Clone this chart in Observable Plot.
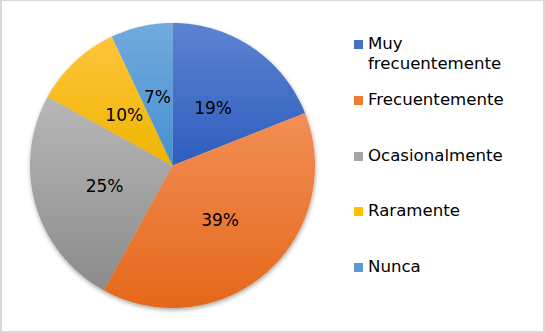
<!DOCTYPE html>
<html>
<head>
<meta charset="utf-8">
<script src="https://cdn.jsdelivr.net/npm/d3@7"></script>
<script src="https://cdn.jsdelivr.net/npm/@observablehq/plot@0.6"></script>
<style>
  html, body { margin: 0; padding: 0; background: #fff; }
  #chart { position: relative; width: 545px; height: 333px; overflow: hidden; }
  #frame { position: absolute; left: 0; top: 0; width: 545px; height: 333px; box-sizing: border-box;
           border-top: 1px solid #d9d9d9; border-left: 2px solid #d9d9d9; border-right: 2px solid #d9d9d9; border-bottom: 2px solid #d9d9d9; pointer-events: none; }
  #legend { position: absolute; left: 354px; top: 0; font-family: "DejaVu Sans", sans-serif; font-size: 16.6px; color: #000; }
  .item { position: absolute; left: 0; white-space: nowrap; }
  .sw { position: absolute; left: 0; width: 9px; height: 9px; }
  .lab { position: absolute; left: 14px; line-height: 20px; }
</style>
</head>
<body>
<div id="chart"><div id="legend"></div><div id="frame"></div></div>
<script>
// ---- data ----
const categories = ["Muy frecuentemente", "Frecuentemente", "Ocasionalmente", "Raramente", "Nunca"];
const legendLines = [["Muy", "frecuentemente"], ["Frecuentemente"], ["Ocasionalmente"], ["Raramente"], ["Nunca"]];
const values = [19, 39, 25, 10, 7];
const labels = ["19%", "39%", "25%", "10%", "7%"];
const colorTop = ["#5d82d2", "#f28e56", "#b7b7b7", "#ffc43a", "#72aadd"];
const colorBottom = ["#2d5ebd", "#e4681a", "#8b8b8b", "#eeb500", "#4690d2"];
const swatch = ["#4472c4", "#ed7d31", "#a5a5a5", "#ffc000", "#5b9bd5"];

// ---- layout ----
const W = 545, H = 333, cx = 172.5, cy = 165.5, R = 142.5;
const xDomain = [-cx / R, (W - cx) / R];
const yDomain = [-(H - cy) / R, cy / R];

const pie = d3.pie().sort(null).value(d => d.value)(categories.map((c, i) => ({cat: c, value: values[i], label: labels[i]})));

const arcPts = [];
pie.forEach(p => {
  const n = Math.max(2, Math.ceil((p.endAngle - p.startAngle) / 0.01));
  for (let k = 0; k <= n; k++) {
    const a = p.startAngle + (p.endAngle - p.startAngle) * k / n;
    arcPts.push({cat: p.data.cat, x1: Math.sin(a), y1: Math.cos(a), x2: 0, y2: 0});
  }
});
const labelPts = pie.map(p => {
  const a = (p.startAngle + p.endAngle) / 2;
  return {label: p.data.label, x: 0.5 * Math.sin(a), y: 0.5 * Math.cos(a)};
});

// gradient defs (one per slice, vertical over its bounding box)
const defs = () => {
  const d = d3.create("svg:defs");
  categories.forEach((c, i) => {
    const g = d.append("linearGradient").attr("id", "g" + i).attr("x1", 0).attr("y1", 0).attr("x2", 0).attr("y2", 1);
    g.append("stop").attr("offset", "0%").attr("stop-color", colorTop[i]);
    g.append("stop").attr("offset", "100%").attr("stop-color", colorBottom[i]);
  });
  const f = d.append("filter").attr("id", "shadow").attr("x", "-10%").attr("y", "-10%").attr("width", "120%").attr("height", "120%");
  f.append("feDropShadow").attr("dx", 0.5).attr("dy", 2).attr("stdDeviation", 2.2).attr("flood-color", "#000").attr("flood-opacity", 0.35);
  return d.node();
};

const svg = Plot.plot({
  width: W, height: H,
  margin: 0,
  style: {background: "transparent", overflow: "visible"},
  x: {domain: xDomain, axis: null},
  y: {domain: yDomain, axis: null},
  color: {type: "ordinal", domain: categories, range: categories.map((c, i) => `url(#g${i})`)},
  marks: [
    defs,
    Plot.area(arcPts, {x1: "x1", y1: "y1", x2: "x2", y2: "y2", z: "cat", fill: "cat", curve: "linear"}),
    Plot.text(labelPts, {x: "x", y: "y", text: "label", fill: "#000", fontSize: 17, fontFamily: "DejaVu Sans, sans-serif", dy: 1})
  ]
});
d3.select(svg).select("g[aria-label=area]").attr("filter", "url(#shadow)");
document.getElementById("chart").prepend(svg);
svg.style.position = "absolute"; svg.style.left = "0"; svg.style.top = "0";

// legend
const legendY = [44.5, 100.3, 156, 211.5, 267.5];
const leg = d3.select("#legend");
categories.forEach((c, i) => {
  const it = leg.append("div").attr("class", "item").style("top", (legendY[i] - 4.5) + "px");
  it.append("div").attr("class", "sw").style("top", "0px").style("background", swatch[i]);
  it.append("div").attr("class", "lab").style("top", "-6px").html(legendLines[i].join("<br>"));
});
</script>
</body>
</html>
